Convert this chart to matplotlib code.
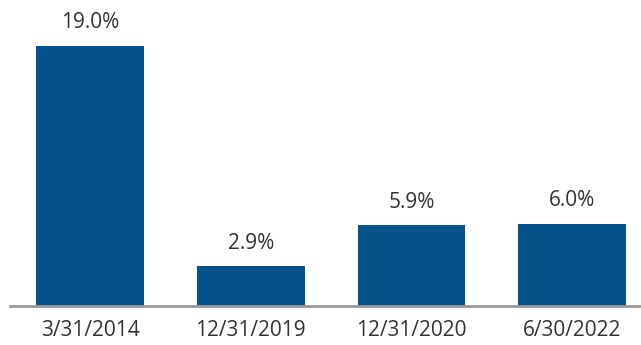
import matplotlib.pyplot as plt

dates = ["3/31/2014", "12/31/2019", "12/31/2020", "6/30/2022"]
rates = [19.0, 2.9, 5.9, 6.0]
labels = ["19.0%", "2.9%", "5.9%", "6.0%"]

BAR_COLOR = "#06528a"
TEXT_COLOR = "#333333"

fig = plt.figure(figsize=(6.41, 3.45), dpi=100)
ax = fig.add_axes([10 / 641, 39 / 345, 631 / 641, 286 / 345])

x = range(len(dates))
bars = ax.bar(x, rates, width=0.67, color=BAR_COLOR, zorder=2)
for b, lab in zip(bars, labels):
    ax.annotate(lab, (b.get_x() + b.get_width() / 2, b.get_height()),
                xytext=(0, 9), textcoords="offset points",
                ha="center", va="bottom", fontsize=15,
                family="Open Sans", color=TEXT_COLOR)

ax.set_xlim(-0.5, 3.43)
ax.set_ylim(0, 20.9)
ax.set_xticks(list(x))
ax.set_xticklabels(dates, fontsize=15, family="Open Sans", color=TEXT_COLOR)
ax.tick_params(axis="x", length=0, pad=10)
ax.set_yticks([])
for side in ("top", "right", "left"):
    ax.spines[side].set_visible(False)
ax.spines["bottom"].set_color("#999999")
ax.spines["bottom"].set_linewidth(2)

fig.savefig("out.png", dpi=100, facecolor="white")
